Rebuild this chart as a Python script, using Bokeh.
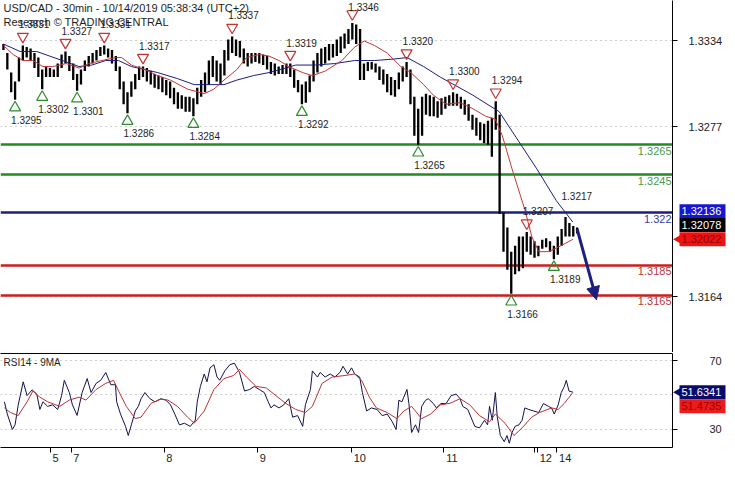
import math
from bokeh.plotting import figure
from bokeh.models import (Range1d, FixedTicker, NumeralTickFormatter, Arrow,
                          NormalHead, LinearAxis, GridBox)
from bokeh.core.properties import value
from bokeh.embed import file_html
from bokeh.resources import INLINE

FONT = "Liberation Sans"

# ---------------- data (hourly index from 4 Oct 12:00) ----------------
bar_high = [
    1.3332, 1.3326, 1.3313, 1.3307, 1.3323, 1.3331, 1.3330, 1.3329, 1.3326, 1.3323,
    1.3315, 1.3317, 1.3316, 1.3315, 1.3319, 1.3325, 1.3327, 1.3324, 1.3319, 1.3312,
    1.3315, 1.3321, 1.3324, 1.3326, 1.3328, 1.3330, 1.3331, 1.3329, 1.3328, 1.3324,
    1.3317, 1.3307, 1.3300, 1.3307, 1.3312, 1.3317, 1.3317, 1.3316, 1.3314, 1.3312,
    1.3311, 1.3310, 1.3308, 1.3307, 1.3303, 1.3300, 1.3298, 1.3297, 1.3297, 1.3296,
    1.3303, 1.3308, 1.3313, 1.3321, 1.3324, 1.3321, 1.3319, 1.3328, 1.3335, 1.3337,
    1.3335, 1.3334, 1.3329, 1.3326, 1.3326, 1.3326, 1.3326, 1.3325, 1.3324, 1.3320,
    1.3319, 1.3317, 1.3318, 1.3319, 1.3319, 1.3315, 1.3308, 1.3305, 1.3307, 1.3311,
    1.3321, 1.3326, 1.3329, 1.3330, 1.3332, 1.3332, 1.3335, 1.3337, 1.3339, 1.3342,
    1.3346, 1.3345, 1.3342, 1.3319, 1.3320, 1.3320, 1.3319, 1.3317, 1.3315, 1.3312,
    1.3310, 1.3308, 1.3313, 1.3317, 1.3320, 1.3315, 1.3297, 1.3289, 1.3297, 1.3299,
    1.3298, 1.3297, 1.3294, 1.3296, 1.3297, 1.3298, 1.3300, 1.3299, 1.3297, 1.3295,
    1.3292, 1.3285, 1.3283, 1.3280, 1.3279, 1.3281, 1.3283, 1.3294, 1.3285, 1.3220,
    1.3210, 1.3194, 1.3198, 1.3204, 1.3204, 1.3207, 1.3204, 1.3201, 1.3198, 1.3202,
    1.3203, 1.3201, 1.3198, 1.3204, 1.3209, 1.3217, 1.3213, 1.3211, 1.3210]
bar_low = [
    1.3328, 1.3315, 1.3300, 1.3295, 1.3307, 1.3321, 1.3323, 1.3321, 1.3316, 1.3310,
    1.3302, 1.3310, 1.3310, 1.3310, 1.3310, 1.3316, 1.3319, 1.3314, 1.3308, 1.3301,
    1.3305, 1.3314, 1.3317, 1.3319, 1.3321, 1.3324, 1.3325, 1.3323, 1.3319, 1.3314,
    1.3302, 1.3292, 1.3286, 1.3297, 1.3302, 1.3308, 1.3310, 1.3307, 1.3305, 1.3303,
    1.3302, 1.3300, 1.3298, 1.3296, 1.3292, 1.3289, 1.3289, 1.3287, 1.3287, 1.3284,
    1.3292, 1.3297, 1.3300, 1.3305, 1.3310, 1.3307, 1.3305, 1.3311, 1.3321, 1.3326,
    1.3324, 1.3323, 1.3319, 1.3317, 1.3319, 1.3320, 1.3319, 1.3318, 1.3315, 1.3312,
    1.3311, 1.3312, 1.3312, 1.3312, 1.3310, 1.3303, 1.3300, 1.3292, 1.3293, 1.3300,
    1.3307, 1.3313, 1.3317, 1.3319, 1.3321, 1.3323, 1.3324, 1.3326, 1.3329, 1.3332,
    1.3335, 1.3332, 1.3308, 1.3308, 1.3314, 1.3315, 1.3313, 1.3308, 1.3305, 1.3300,
    1.3298, 1.3297, 1.3302, 1.3307, 1.3310, 1.3292, 1.3271, 1.3265, 1.3271, 1.3285,
    1.3284, 1.3284, 1.3283, 1.3285, 1.3289, 1.3291, 1.3291, 1.3291, 1.3289, 1.3285,
    1.3281, 1.3275, 1.3271, 1.3268, 1.3266, 1.3265, 1.3257, 1.3275, 1.3219, 1.3194,
    1.3182, 1.3166, 1.3179, 1.3181, 1.3183, 1.3194, 1.3192, 1.3190, 1.3191, 1.3196,
    1.3197, 1.3194, 1.3189, 1.3192, 1.3198, 1.3204, 1.3204, 1.3204, 1.3206]
bar_idx = list(range(len(bar_high)))

slow_ma_idx = [0, 4.3, 8.6, 11.9, 15.2, 19.5, 22.8, 26.4, 29.7, 33.0, 36.5, 39.8, 44.9,
               49.2, 53.3, 56.9, 60.2, 64.5, 68.5, 72.8, 75.4, 80.5, 85.5, 90.6, 95.7,
               100.8, 104.1, 108.4, 112.7, 121.1, 127.9, 133.0, 137.6, 142.6, 146.9]
slow_ma_val = [1.3332, 1.3327, 1.3327, 1.3324, 1.3321, 1.3317, 1.3318, 1.3321, 1.3321,
               1.3317, 1.3315, 1.3313, 1.3309, 1.3305, 1.3305, 1.3305, 1.3308, 1.3311,
               1.3313, 1.3316, 1.3318, 1.3318, 1.3319, 1.3321, 1.3321, 1.3322, 1.3323,
               1.3317, 1.3310, 1.3298, 1.3287, 1.3267, 1.3249, 1.3228, 1.32136]

fast_ma_idx = [0, 2.5, 5.1, 7.6, 10.2, 12.7, 16.2, 19.5, 22.1, 25.4, 28.9, 30.5, 33.0,
               36.5, 39.8, 43.1, 47.5, 51.8, 54.3, 56.9, 60.2, 62.7, 66.0, 68.5, 71.1,
               73.6, 77.2, 79.7, 83.0, 87.3, 90.6, 93.1, 95.7, 99.0, 102.5, 105.1, 108.4,
               110.9, 114.2, 117.8, 121.1, 124.4, 126.9, 128.7, 131.2, 134.5, 136.3,
               138.1, 140.6, 143.1, 146.9]
fast_ma_val = [1.3331, 1.3325, 1.3321, 1.3321, 1.3317, 1.3317, 1.3319, 1.3316, 1.3319,
               1.3321, 1.3323, 1.3323, 1.3318, 1.3315, 1.3311, 1.3308, 1.3302, 1.3299,
               1.3302, 1.3308, 1.3315, 1.3323, 1.3325, 1.3324, 1.3321, 1.3317, 1.3313,
               1.3311, 1.3314, 1.3321, 1.3330, 1.3334, 1.3331, 1.3326, 1.3317, 1.3313,
               1.3305, 1.3298, 1.3292, 1.3293, 1.3289, 1.3284, 1.3282, 1.3271, 1.3249,
               1.3222, 1.3204, 1.3194, 1.3194, 1.3197, 1.32022]

swing_high_idx = [5, 16, 26, 36, 59, 74, 90, 104, 116, 127, 135, 145]
swing_high_val = [1.3331, 1.3327, 1.3331, 1.3317, 1.3337, 1.3319, 1.3346, 1.3320,
                  1.3300, 1.3294, 1.3207, 1.3217]
swing_high_text = ["1.3331", "1.3327", "1.3331", "1.3317", "1.3337", "1.3319", "1.3346",
                   "1.3320", "1.3300", "1.3294", "1.3207", "1.3217"]
swing_low_idx = [3, 10, 19, 32, 49, 77, 107, 131, 142]
swing_low_val = [1.3295, 1.3302, 1.3301, 1.3286, 1.3284, 1.3292, 1.3265, 1.3166, 1.3189]
swing_low_text = ["1.3295", "1.3302", "1.3301", "1.3286", "1.3284", "1.3292", "1.3265",
                  "1.3166", "1.3189"]

level_val = [1.3265, 1.3245, 1.322, 1.3185, 1.3165]
level_text = ["1.3265", "1.3245", "1.322", "1.3185", "1.3165"]

price_ticks = [1.3164, 1.3277, 1.3334]
last_slow_ma = 1.32136
last_close = 1.32078
last_fast_ma = 1.32022

projection_x = [148.0, 153.0]
projection_y = [1.3209, 1.3162]

rsi_idx = [0.25, 1.0, 2.3, 3.0, 3.8, 5.1, 6.1, 7.4, 8.6, 9.4,
           10.2, 11.4, 12.7, 14.0, 15.0, 15.7, 17.0, 17.8, 19.0, 20.3,
           21.6, 22.6, 23.9, 25.1, 26.4, 27.7, 28.9, 29.2, 30.2, 31.5,
           32.2, 33.0, 34.0, 34.8, 35.5, 36.5, 37.8, 39.1, 40.6, 41.9,
           43.1, 44.2, 45.4, 46.7, 48.2, 49.5, 50.0, 50.8, 51.8, 52.5,
           53.3, 54.3, 55.1, 55.8, 57.1, 58.4, 59.6, 60.9, 62.2, 63.5,
           64.7, 66.0, 67.3, 68.3, 69.0, 69.8, 71.1, 72.3, 73.6, 74.6,
           75.9, 77.2, 77.9, 79.2, 79.7, 81.0, 81.7, 83.0, 84.3, 85.5,
           86.8, 87.6, 88.8, 89.8, 90.6, 91.9, 92.6, 93.7, 94.9, 96.4,
           97.7, 99.0, 100.3, 101.3, 102.0, 102.8, 104.1, 104.6, 105.3, 106.3,
           107.1, 107.9, 108.9, 109.6, 110.9, 111.7, 112.9, 114.2, 115.5, 116.8,
           117.8, 118.5, 119.8, 120.6, 121.6, 122.8, 124.1, 124.9, 125.4, 126.1,
           126.9, 127.4, 128.2, 129.2, 129.9, 130.5, 131.2, 132.0, 133.0, 133.8,
           134.5, 135.5, 136.8, 138.1, 139.3, 140.6, 141.4, 142.1, 143.1, 143.9,
           144.7, 145.2, 145.9, 146.9]
rsi_val = [46, 38.8, 29.8, 32.5, 44, 57.7, 49.6, 53, 50.5, 41.5,
           46, 43.3, 44.2, 41.5, 49.6, 58.6, 51.4, 44.2, 38, 51.4,
           59.6, 51.4, 56.8, 58.6, 63.2, 56, 56, 46, 38.8, 31.6,
           26.2, 32.5, 40.6, 43.3, 47.8, 51.4, 47.8, 46, 47.8, 47,
           44.2, 38.8, 32.5, 33.4, 31.6, 35.2, 46, 55, 62.3, 57.7,
           65.9, 67.7, 60.5, 58.6, 64.1, 67.7, 68.6, 63.2, 52.3, 53.2,
           55, 53.2, 51.4, 46, 42.4, 44.2, 42.4, 44.2, 47.8, 37,
           37.9, 31.6, 44.2, 53.2, 64.1, 60.5, 63.2, 60.5, 62.3, 60.5,
           63.2, 66.8, 62.3, 65.9, 62.3, 60.5, 51.4, 40.6, 42.4, 41.5,
           37.9, 38.8, 34.3, 29.8, 46.9, 46, 53.2, 45, 28, 32.5,
           28, 43.3, 46.9, 47.8, 45, 42.4, 45, 45, 49.6, 50.5,
           47.8, 43.3, 41.5, 37, 31.6, 30.7, 35.2, 32.5, 43.3, 35.2,
           51.4, 37, 26.2, 22.6, 26.2, 21.7, 28, 31.6, 32.5, 35.2,
           42.4, 41.5, 40.6, 39.7, 45, 43.3, 42.4, 38.8, 44.2, 51.4,
           55, 58.6, 52.3, 51.6341]
rsi_ma_idx = [0.25, 1.8, 3.8, 6.1, 7.6, 9.4, 11.4, 14.5, 17.0, 19.5,
              21.3, 23.9, 26.4, 28.4, 29.7, 31.7, 34.0, 35.5, 38.1, 40.6,
              42.4, 44.9, 47.5, 49.2, 51.8, 54.3, 56.9, 59.4, 60.9, 62.7,
              65.2, 67.8, 70.3, 72.8, 75.4, 77.9, 79.7, 82.2, 84.8, 88.1,
              90.6, 92.4, 94.4, 96.2, 99.0, 101.5, 103.3, 105.3, 107.9, 110.2,
              112.7, 115.2, 117.8, 120.3, 122.8, 125.4, 126.9, 129.4, 131.7, 133.8,
              136.3, 138.3, 141.4, 143.1, 144.7, 146.9]
rsi_ma_val = [42.4, 39.7, 37.9, 46, 52.3, 48.7, 46, 43.3, 47, 48.7,
              47, 53.2, 56.8, 58.6, 52.3, 43.3, 36.1, 37, 45.1, 47.5,
              47, 43.3, 37, 33.4, 40.6, 53.2, 59.6, 61.4, 65, 60.5,
              55, 54.1, 49.6, 45.1, 41.5, 39.7, 43.3, 56.8, 60.5, 61.4,
              62.3, 58.6, 48.7, 42.4, 39.7, 36.1, 40.6, 43.3, 36.1, 38.8,
              44.2, 45.1, 47.8, 44.2, 37.9, 34.3, 38.8, 33.4, 26.2, 30.7,
              37, 39.7, 42.4, 41.5, 45.1, 51.4735]
rsi_ticks = [30, 70]
rsi_grid = [30, 50, 70]
rsi_last = 51.6341
rsi_ma_last = 51.4735

day_pos = [12.1, 17.5, 41.5, 65.6, 89.8, 113.6, 137.1, 137.8, 142.8]
day_text = ["5", "7", "8", "9", "10", "11", "", "12", "14"]

# ---------------- styling ----------------
NAVY = "#1b1f7e"
FW = 672          # plot frame width
OW = 726          # overlay width (frame + right axis zone)
TAG_W = 46
H1 = 352
H2 = 112
B2_TOP, B2_BOT = 1, 15
F2 = H2 - B2_TOP - B2_BOT
x_rng = Range1d(-0.76, 172.6)
y1 = Range1d(1.3127, 1.33609)
y2 = Range1d(19.2, 74.3)
ppu = H1 / (y1.end - y1.start)          # px per price unit
ppu2 = F2 / (y2.end - y2.start)
ppx = FW / (x_rng.end - x_rng.start)    # px per index unit


def style_yaxis(a, ticks, standoff):
    a.ticker = FixedTicker(ticks=ticks)
    a.axis_line_color = "black"
    a.major_tick_out = 5
    a.major_tick_in = 0
    a.minor_tick_out = 0
    a.minor_tick_in = 0
    a.major_label_standoff = standoff
    a.major_label_text_font = FONT
    a.major_label_text_font_size = "11px"
    a.major_label_text_color = "#222222"


# ---------------- main price panel ----------------
p1 = figure(frame_width=FW, height=H1, x_range=x_rng, y_range=y1,
            output_backend="svg", toolbar_location=None,
            x_axis_location=None, y_axis_location="right",
            min_border_left=0, min_border_top=0, min_border_bottom=0)
p1.outline_line_color = None
p1.xgrid.visible = False
p1.ygrid.ticker = FixedTicker(ticks=price_ticks)
p1.ygrid.grid_line_color = "#9a9a9a"
p1.ygrid.grid_line_dash = "1 4"
style_yaxis(p1.yaxis[0], price_ticks, 11)
p1.yaxis[0].formatter = NumeralTickFormatter(format="0.0000")

level_line_colors = ["#228b22", "#228b22", NAVY, "#cc1e1e", "#cc1e1e"]
level_text_colors = ["#4f994f", "#4f994f", "#3a3aa0", "#b23a3a", "#b23a3a"]
p1.hspan(y=level_val, line_color=level_line_colors, line_width=2.5)
p1.text(x=[x_rng.end] * len(level_val), y=level_val, text=level_text,
        text_align="right", text_baseline="top", x_offset=-1, y_offset=2,
        text_color=level_text_colors, text_font_size="11px", text_font=value(FONT))

p1.vbar(x=bar_idx, top=bar_high, bottom=bar_low, width=0.6,
        fill_color="black", line_color=None)
p1.line(slow_ma_idx, slow_ma_val, line_color=NAVY, line_width=1)
p1.line(fast_ma_idx, fast_ma_val, line_color="#c23636", line_width=1)

tri_hi = [v + 9 / ppu for v in swing_high_val[:-1]]
tri_lo = [v - 8 / ppu for v in swing_low_val]
lab_hi = [min(v + 21 / ppu, y1.end - 6 / ppu) for v in swing_high_val]
lab_lo = [v - 20 / ppu for v in swing_low_val]
p1.scatter(swing_high_idx[:-1], tri_hi, marker="inverted_triangle", size=11,
           fill_color=None, line_color="#c83232", line_width=1.2)
p1.scatter(swing_low_idx, tri_lo, marker="triangle", size=11,
           fill_color=None, line_color="#2e8b2e", line_width=1.2)
p1.text(x=swing_high_idx, y=lab_hi, text=swing_high_text, x_offset=-4,
        text_align="left", text_baseline="middle",
        text_font_size="10px", text_font=value(FONT), text_color="#1e1e1e")
p1.text(x=swing_low_idx, y=lab_lo, text=swing_low_text, x_offset=-4,
        text_align="left", text_baseline="middle",
        text_font_size="10px", text_font=value(FONT), text_color="#1e1e1e")

p1.add_layout(Arrow(end=NormalHead(size=13, fill_color=NAVY, line_color=NAVY),
                    x_start=projection_x[0], y_start=projection_y[0],
                    x_end=projection_x[1], y_end=projection_y[1],
                    line_color=NAVY, line_width=3))

p1.text(x=[x_rng.start, x_rng.start], y=[y1.end, y1.end],
        text=["USD/CAD - 30min - 10/14/2019 05:38:34 (UTC+2)",
              "Research \u00a9 TRADING CENTRAL"],
        x_offset=3, y_offset=[1, 15], text_baseline="top",
        text_font_size="11px", text_font=value(FONT), text_color="#1e1e1e")

# ---------------- RSI panel ----------------
p2 = figure(frame_width=FW, height=H2, x_range=x_rng, y_range=y2,
            output_backend="svg", toolbar_location=None, y_axis_location="right",
            min_border_left=0, min_border_top=B2_TOP, min_border_bottom=B2_BOT)
p2.outline_line_color = None
p2.xgrid.visible = False
p2.ygrid.ticker = FixedTicker(ticks=rsi_grid)
p2.ygrid.grid_line_color = "#9a9a9a"
p2.ygrid.grid_line_dash = "1 4"
style_yaxis(p2.yaxis[0], rsi_ticks, 32)

lab_pos = [round(p + (2 + 3.1 * len(t)) / ppx, 2) for p, t in zip(day_pos, day_text) if t]
lab_txt = [t for t in day_text if t]
axx = p2.xaxis[0]
axx.ticker = FixedTicker(ticks=lab_pos, minor_ticks=day_pos)
axx.major_label_overrides = {p: t for p, t in zip(lab_pos, lab_txt)}
axx.axis_line_color = "black"
axx.major_tick_out = 0
axx.major_tick_in = 0
axx.minor_tick_out = 5
axx.minor_tick_in = 0
axx.minor_tick_line_color = "black"
axx.major_label_standoff = 1
axx.major_label_text_font = FONT
axx.major_label_text_font_size = "11px"
axx.major_label_text_color = "#222222"

p2.add_layout(LinearAxis(ticker=FixedTicker(ticks=[]), axis_line_color="black",
                         major_tick_out=0, major_tick_in=0, minor_tick_out=0,
                         minor_tick_in=0, major_label_text_font_size="0px",
                         major_label_standoff=0), "above")

p2.line(rsi_idx, rsi_val, line_color="#12124e", line_width=1)
p2.line(rsi_ma_idx, rsi_ma_val, line_color="#b83232", line_width=1)
p2.text(x=[x_rng.start], y=[y2.end], text=["RSI14 - 9MA"], x_offset=3, y_offset=3,
        text_baseline="top", text_font_size="10px", text_font=value(FONT),
        text_color="#1e1e1e")


# ---------------- transparent overlays for the value tags on the axis ----------------
def overlay(height, y_range, top, bottom):
    o = figure(frame_width=OW, height=height, x_range=Range1d(0, OW), y_range=y_range,
               output_backend="svg", toolbar_location=None,
               x_axis_location=None, y_axis_location=None,
               min_border_left=0, min_border_right=0,
               min_border_top=top, min_border_bottom=bottom)
    o.background_fill_color = None
    o.border_fill_color = None
    o.outline_line_color = None
    o.grid.visible = False
    return o


def tags(o, vals, texts, bgs, fgs, lift_px, scale, pointer):
    ys = [v + d / scale for v, d in zip(vals, lift_px)]
    n = len(vals)
    o.scatter([FW + 7 for i in range(n) if pointer[i]],
              [y for y, f in zip(ys, pointer) if f],
              marker="triangle", angle=math.pi / 2, size=11,
              fill_color=[c for c, f in zip(bgs, pointer) if f], line_color=None)
    o.rect(x=[FW + 7 + TAG_W / 2] * n, y=ys, width=TAG_W, height=14,
           height_units="screen", fill_color=bgs, line_color=None)
    o.text(x=[FW + 9] * n, y=ys, text=texts, text_color=fgs,
           text_baseline="middle", text_align="left",
           text_font_size="11px", text_font=value(FONT))


o1 = overlay(H1, y1, 0, 0)
tags(o1, [last_slow_ma, last_close, last_fast_ma], ["1.32136", "1.32078", "1.32022"],
     ["#1717cf", "#000000", "#ec1313"], ["white", "white", "#9a0000"],
     [11, 6, 0], ppu, [False, False, True])

o2 = overlay(H2, y2, B2_TOP, B2_BOT)
tags(o2, [rsi_last, rsi_ma_last], ["51.6341", "51.4735"],
     ["#0b0b6b", "#ec1c1c"], ["white", "#9a0000"], [0, -14], ppu2, [True, False])

layout = GridBox(children=[(p1, 0, 0), (p2, 1, 0), (o1, 0, 0), (o2, 1, 0)], spacing=0)
open("out.html", "w").write(file_html(layout, INLINE, "USD/CAD"))
